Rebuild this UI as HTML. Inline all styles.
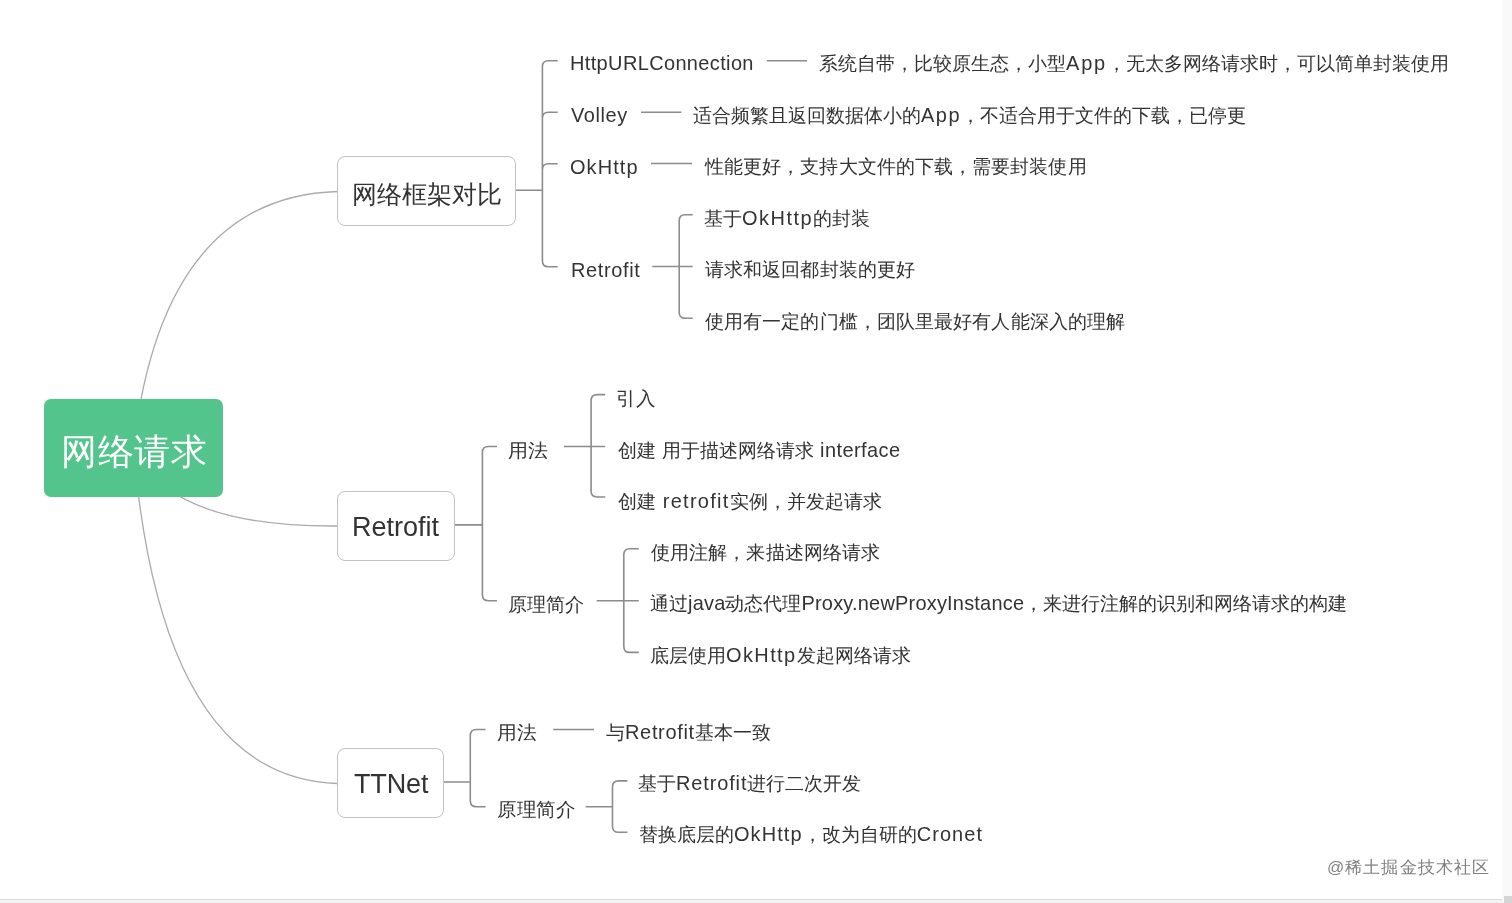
<!DOCTYPE html>
<html><head><meta charset="utf-8"><style>
html,body{margin:0;padding:0;background:#fff;width:1512px;height:903px;overflow:hidden;position:relative;font-family:"Liberation Sans",sans-serif}
.t{position:absolute;white-space:nowrap;transform-origin:0 50%;will-change:transform}
.box{position:absolute;box-sizing:border-box;background:#fff;border:1px solid #c2c2c2;border-radius:8px}
svg{position:absolute;left:0;top:0}
.s .l{font-size:1.04em}
</style></head><body>
<svg width="1512" height="903" viewBox="0 0 1512 903">
<g fill="none" stroke="#ababab" stroke-width="1.3"><path d="M133.5 448 Q162.6 196.8 337.5 191.5" /><path d="M133.5 448 Q170 527.4 337.5 526" /><path d="M133.5 448 Q161.3 778 337.5 783.5" /></g>
<g fill="none" stroke="#8c8c8c" stroke-width="1.6"><path d="M516 190.3 H542.4 M557.7 60.7 H548.4 Q542.4 60.7 542.4 66.7 V260.7 Q542.4 266.7 548.4 266.7 H557.7 M557.7 112.3 H548.4 Q542.4 112.3 542.4 118.3 M557.7 163.7 H548.4 Q542.4 163.7 542.4 169.7" /><path d="M652.2 266.5 H679.2 M692.7 214.8 H685.2 Q679.2 214.8 679.2 220.8 V312.2 Q679.2 318.2 685.2 318.2 H692.7 M679.2 266.5 H692.7" /><path d="M455 524.9 H482.4 M497 446.5 H488.4 Q482.4 446.5 482.4 452.5 V594.7 Q482.4 600.7 488.4 600.7 H497" /><path d="M564 446.5 H591.1 M605.2 394.6 H597.1 Q591.1 394.6 591.1 400.6 V491 Q591.1 497 597.1 497 H605.2 M591.1 446.5 H605.2" /><path d="M596.7 600.7 H623.8 M638.8 548.8 H629.8 Q623.8 548.8 623.8 554.8 V646.4 Q623.8 652.4 629.8 652.4 H638.8 M623.8 600.7 H638.8" /><path d="M443.7 782 H470.3 M485.6 729.5 H476.3 Q470.3 729.5 470.3 735.5 V800.7 Q470.3 806.7 476.3 806.7 H485.6" /><path d="M585.7 806.7 H612.5 M627.4 780.9 H618.5 Q612.5 780.9 612.5 786.9 V826.3 Q612.5 832.3 618.5 832.3 H627.4" /><path d="M766.8 60.8 H807" /><path d="M641 112.3 H681.4" /><path d="M651 163.5 H692" /><path d="M553.3 729.5 H594.1" /></g>
</svg>
<div class="box" style="left:44px;top:399px;width:179px;height:98px;background:#52c48c;border:none;border-radius:7px"></div>
<div class="box" style="left:337px;top:156px;width:179px;height:70px"></div>
<div class="box" style="left:337px;top:491px;width:118px;height:70px"></div>
<div class="box" style="left:337px;top:748px;width:107px;height:70px"></div>
<div class="t" id="root" style="left:61.20px;top:433.85px;font-size:36px;line-height:36px;color:#ffffff;letter-spacing:0.667px">网络请求</div><div class="t" id="b1" style="left:351.75px;top:181.97px;font-size:25px;line-height:25px;color:#333;letter-spacing:-0.040px">网络框架对比</div><div class="t" id="b2" style="left:352.15px;top:514.00px;font-size:27px;line-height:27px;color:#333"><span class="l">Retrofit</span></div><div class="t" id="b3" style="left:353.75px;top:770.90px;font-size:27px;line-height:27px;color:#333"><span class="l" style="letter-spacing:-0.150px">TTNet</span></div><div class="t s" id="t1" style="left:569.94px;top:54.25px;font-size:19.2px;line-height:19.2px;color:#333"><span class="l" style="letter-spacing:0.375px">HttpURLConnection</span></div><div class="t s" id="t1d" style="left:818.54px;top:53.92px;font-size:19.2px;line-height:19.2px;color:#333">系统自带，比较原生态，小型<span class="l" style="letter-spacing:1.833px">App</span>，无太多网络请求时，可以简单封装使用</div><div class="t s" id="t2" style="left:570.94px;top:106.20px;font-size:19.2px;line-height:19.2px;color:#333"><span class="l" style="letter-spacing:0.600px">Volley</span></div><div class="t s" id="t2d" style="left:692.94px;top:105.72px;font-size:19.2px;line-height:19.2px;color:#333">适合频繁且返回数据体小的<span class="l" style="letter-spacing:1.500px">App</span>，不适合用于文件的下载，已停更</div><div class="t s" id="t3" style="left:570.14px;top:157.70px;font-size:19.2px;line-height:19.2px;color:#333"><span class="l" style="letter-spacing:1.100px">OkHttp</span></div><div class="t s" id="t3d" style="left:704.84px;top:156.92px;font-size:19.2px;line-height:19.2px;color:#333;letter-spacing:0.079px">性能更好，支持大文件的下载，需要封装使用</div><div class="t s" id="t4" style="left:570.64px;top:260.70px;font-size:19.2px;line-height:19.2px;color:#333"><span class="l" style="letter-spacing:0.643px">Retrofit</span></div><div class="t s" id="t4a" style="left:704.04px;top:208.82px;font-size:19.2px;line-height:19.2px;color:#333">基于<span class="l" style="letter-spacing:1.500px">OkHttp</span>的封装</div><div class="t s" id="t4b" style="left:705.04px;top:260.32px;font-size:19.2px;line-height:19.2px;color:#333;letter-spacing:0.100px">请求和返回都封装的更好</div><div class="t s" id="t4c" style="left:705.04px;top:311.82px;font-size:19.2px;line-height:19.2px;color:#333;letter-spacing:0.095px">使用有一定的门槛，团队里最好有人能深入的理解</div><div class="t s" id="r1" style="left:508.14px;top:440.82px;font-size:19.2px;line-height:19.2px;color:#333;transform:scaleX(1.0556)">用法</div><div class="t s" id="r1a" style="left:616.04px;top:389.02px;font-size:19.2px;line-height:19.2px;color:#333;transform:scaleX(1.0278)">引入</div><div class="t s" id="r1b" style="left:618.14px;top:440.62px;font-size:19.2px;line-height:19.2px;color:#333">创建<span class="l" style="letter-spacing:0.450px">&nbsp;</span>用于描述网络请求<span class="l" style="letter-spacing:0.450px">&nbsp;interface</span></div><div class="t s" id="r1c" style="left:618.14px;top:491.92px;font-size:19.2px;line-height:19.2px;color:#333">创建<span class="l" style="letter-spacing:1.278px">&nbsp;retrofit</span>实例，并发起请求</div><div class="t s" id="r2" style="left:508.14px;top:594.72px;font-size:19.2px;line-height:19.2px;color:#333;transform:scaleX(1.0071)">原理简介</div><div class="t s" id="r2a" style="left:651.14px;top:543.02px;font-size:19.2px;line-height:19.2px;color:#333;letter-spacing:0.091px">使用注解，来描述网络请求</div><div class="t s" id="r2b" style="left:650.14px;top:594.42px;font-size:19.2px;line-height:19.2px;color:#333">通过<span class="l" style="letter-spacing:0.212px">java</span>动态代理<span class="l" style="letter-spacing:0.212px">Proxy.newProxyInstance</span>，来进行注解的识别和网络请求的构建</div><div class="t s" id="r2c" style="left:650.14px;top:646.12px;font-size:19.2px;line-height:19.2px;color:#333">底层使用<span class="l" style="letter-spacing:1.417px">OkHttp</span>发起网络请求</div><div class="t s" id="n1" style="left:496.84px;top:723.22px;font-size:19.2px;line-height:19.2px;color:#333;transform:scaleX(1.0420)">用法</div><div class="t s" id="n1a" style="left:606.44px;top:722.92px;font-size:19.2px;line-height:19.2px;color:#333">与<span class="l" style="letter-spacing:0.688px">Retrofit</span>基本一致</div><div class="t s" id="n2" style="left:496.84px;top:800.12px;font-size:19.2px;line-height:19.2px;color:#333;transform:scaleX(1.0271)">原理简介</div><div class="t s" id="n2a" style="left:637.94px;top:773.52px;font-size:19.2px;line-height:19.2px;color:#333">基于<span class="l" style="letter-spacing:0.875px">Retrofit</span>进行二次开发</div><div class="t s" id="n2b" style="left:639.04px;top:825.42px;font-size:19.2px;line-height:19.2px;color:#333">替换底层的<span class="l" style="letter-spacing:1.091px">OkHttp</span>，改为自研的<span class="l" style="letter-spacing:1.091px">Cronet</span></div><div class="t" id="wm" style="left:1326.95px;top:859.08px;font-size:17px;line-height:17px;color:#808080;letter-spacing:1.075px"><span class="l">@</span>稀土掘金技术社区</div>
<div style="position:absolute;left:1502px;top:0;width:10px;height:903px;background:#f9f9f9"></div>
<div style="position:absolute;left:0;top:899px;width:1502px;height:1px;background:#dcdcdc"></div>
<div style="position:absolute;left:0;top:900px;width:1502px;height:3px;background:#f3f3f3"></div>
<div style="position:absolute;left:1504px;top:896px;width:8px;height:7px;background:#d5d5d5"></div>
</body></html>
